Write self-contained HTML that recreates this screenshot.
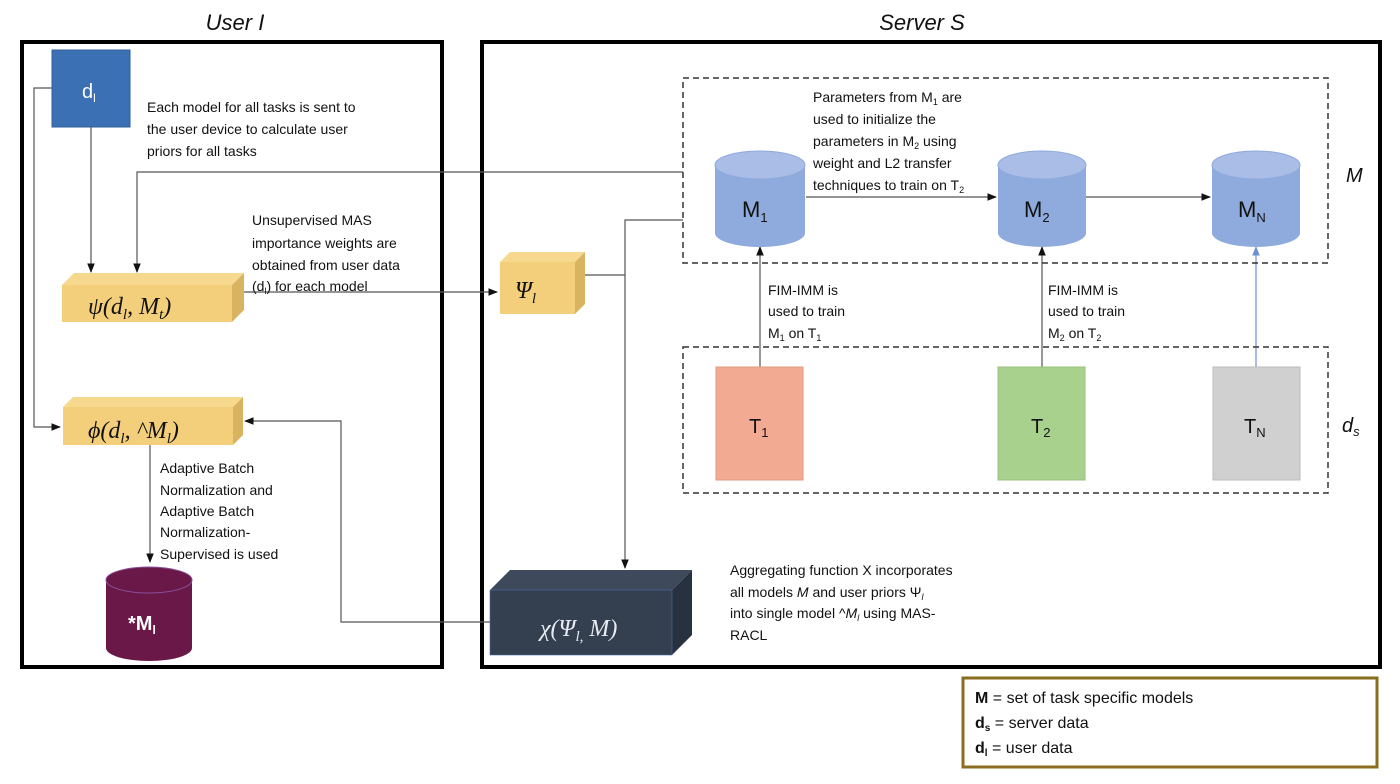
<!DOCTYPE html>
<html><head><meta charset="utf-8"><style>
body{margin:0;background:#fff}
svg{display:block}
text{font-family:"Liberation Sans",sans-serif;fill:#111}
.t{font-size:14px}
.m{font-family:"Liberation Serif",serif;font-style:italic}
</style></head><body>
<svg width="1400" height="784" viewBox="0 0 1400 784" xmlns="http://www.w3.org/2000/svg">
<defs>
<marker id="a" viewBox="0 0 10 10" refX="9" refY="5" markerWidth="8" markerHeight="8" orient="auto"><path d="M0,1 L10,5 L0,9z" fill="#111"/></marker>
<marker id="ab" viewBox="0 0 10 10" refX="9" refY="5" markerWidth="8" markerHeight="8" orient="auto"><path d="M0,1 L10,5 L0,9z" fill="#6f8fd0"/></marker>
</defs>
<text x="235" y="30" font-size="22" font-style="italic" text-anchor="middle">User I</text>
<text x="922" y="30" font-size="22" font-style="italic" text-anchor="middle">Server S</text>
<rect x="22" y="42" width="420" height="625" fill="none" stroke="#000" stroke-width="4"/>
<rect x="482" y="42" width="898" height="625" fill="none" stroke="#000" stroke-width="4"/>

<!-- d_l -->
<rect x="52" y="50" width="78" height="77" fill="#3c70b5" stroke="#2f5f9a"/>
<text x="82" y="98" font-size="20" fill="#fff" style="fill:#fff">d<tspan font-size="12" dy="4">l</tspan></text>
<text class="t" x="147" y="112">Each model for all tasks is sent to</text>
<text class="t" x="147" y="134">the user device to calculate user</text>
<text class="t" x="147" y="156">priors for all tasks</text>

<g fill="none" stroke="#555" stroke-width="1.2">
<path d="M52,88 H34 V427 H60" marker-end="url(#a)"/>
<path d="M91,127 V272" marker-end="url(#a)"/>
<path d="M683,172 H137 V272" marker-end="url(#a)"/>
<path d="M232,292 H497" marker-end="url(#a)"/>
<path d="M150,445 V562" marker-end="url(#a)"/>
<path d="M490,622 H341 V421 H245" marker-end="url(#a)"/>
<path d="M575,275 H625 M683,220 H625 V568" marker-end="url(#a)"/>
<path d="M806,197 H996" marker-end="url(#a)"/>
<path d="M1085,197 H1210" marker-end="url(#a)"/>
<path d="M760,367 V247" marker-end="url(#a)"/>
<path d="M1042,367 V247" marker-end="url(#a)"/>
<path d="M1256,367 V247" stroke="#6f8fd0" marker-end="url(#ab)"/>
</g>

<!-- psi box -->
<polygon points="62,285 74,273 244,273 232,285" fill="#f6d98e"/>
<polygon points="232,285 244,273 244,310 232,322" fill="#d9b460"/>
<rect x="62" y="285" width="170" height="37" fill="#f3cf7b"/>
<text x="88" y="314" font-size="24" class="m">ψ(d<tspan font-size="15" dy="5">l</tspan><tspan dy="-5">, M</tspan><tspan font-size="15" dy="5">t</tspan><tspan dy="-5">)</tspan></text>
<text class="t" x="252" y="225">Unsupervised MAS</text>
<text class="t" x="252" y="248">importance weights are</text>
<text class="t" x="252" y="270">obtained from user data</text>
<text class="t" x="252" y="291">(d<tspan font-size="9" dy="3">l</tspan><tspan dy="-3">) for each model</tspan></text>

<!-- phi box -->
<polygon points="63,407 73,397 243,397 233,407" fill="#f6d98e"/>
<polygon points="233,407 243,397 243,435 233,445" fill="#d9b460"/>
<rect x="63" y="407" width="170" height="38" fill="#f3cf7b"/>
<text x="88" y="438" font-size="24" class="m">ϕ(d<tspan font-size="15" dy="5">l</tspan><tspan dy="-5">, ^M</tspan><tspan font-size="15" dy="5">l</tspan><tspan dy="-5">)</tspan></text>
<text class="t" x="160" y="473">Adaptive Batch</text>
<text class="t" x="160" y="495">Normalization and</text>
<text class="t" x="160" y="516">Adaptive Batch</text>
<text class="t" x="160" y="537">Normalization-</text>
<text class="t" x="160" y="559">Supervised is used</text>

<!-- *M_l cylinder -->
<path d="M106,580 V648 A43,13 0 0 0 192,648 V580" fill="#6a1848"/>
<ellipse cx="149" cy="580" rx="43" ry="13" fill="#6a1848" stroke="#8a4f9a"/>
<text x="128" y="630" font-size="20" font-weight="bold" style="fill:#fff">*M<tspan font-size="12" dy="4">l</tspan></text>

<!-- Psi box -->
<polygon points="500,262 510,252 585,252 575,262" fill="#f6d98e"/>
<polygon points="575,262 585,252 585,304 575,314" fill="#d9b460"/>
<rect x="500" y="262" width="75" height="52" fill="#f3cf7b"/>
<text x="515" y="298" font-size="24" class="m">Ψ<tspan font-size="15" dy="5">l</tspan></text>

<!-- chi box -->
<polygon points="490,590 510,570 692,570 672,590" fill="#3e4a5c"/>
<polygon points="672,590 692,570 692,635 672,655" fill="#27313f"/>
<rect x="490" y="590" width="182" height="65" fill="#34404f" stroke="#4a6da8" stroke-width="0.6"/>
<text x="540" y="636" font-size="24" class="m" style="fill:#e8ecf2">χ(Ψ<tspan font-size="15" dy="5">l,</tspan><tspan dy="-5"> M)</tspan></text>
<text class="t" x="730" y="575">Aggregating function X incorporates</text>
<text class="t" x="730" y="597">all models <tspan font-style="italic">M</tspan> and user priors Ψ<tspan font-size="9" dy="3" font-style="italic">l</tspan></text>
<text class="t" x="730" y="618">into single model ^<tspan font-style="italic">M</tspan><tspan font-size="9" dy="3" font-style="italic">l</tspan><tspan dy="-3">  using MAS-</tspan></text>
<text class="t" x="730" y="640">RACL</text>

<!-- dashed boxes -->
<rect x="683" y="78" width="645" height="185" fill="none" stroke="#333" stroke-width="1.5" stroke-dasharray="6,4"/>
<rect x="683" y="347" width="645" height="146" fill="none" stroke="#333" stroke-width="1.5" stroke-dasharray="6,4"/>
<text x="1346" y="182" font-size="20" font-style="italic">M</text>
<text x="1342" y="432" font-size="20" font-style="italic">d<tspan font-size="13" dy="4">s</tspan></text>

<text class="t" x="813" y="102">Parameters from M<tspan font-size="9" dy="3">1</tspan><tspan dy="-3"> are</tspan></text>
<text class="t" x="813" y="124">used to initialize the</text>
<text class="t" x="813" y="146">parameters in M<tspan font-size="9" dy="3">2</tspan><tspan dy="-3"> using</tspan></text>
<text class="t" x="813" y="168">weight and L2 transfer</text>
<text class="t" x="813" y="190">techniques to train on T<tspan font-size="9" dy="3">2</tspan></text>

<!-- model cylinders -->
<g>
<path d="M715,165 V233 A45,14 0 0 0 805,233 V165" fill="#8faadc"/>
<ellipse cx="760" cy="165" rx="45" ry="14" fill="#a9bde6" stroke="#8faadc"/>
<text x="742" y="217" font-size="22">M<tspan font-size="13" dy="5">1</tspan></text>
<path d="M998,165 V233 A44,14 0 0 0 1086,233 V165" fill="#8faadc"/>
<ellipse cx="1042" cy="165" rx="44" ry="14" fill="#a9bde6" stroke="#8faadc"/>
<text x="1024" y="217" font-size="22">M<tspan font-size="13" dy="5">2</tspan></text>
<path d="M1212,165 V233 A44,14 0 0 0 1300,233 V165" fill="#8faadc"/>
<ellipse cx="1256" cy="165" rx="44" ry="14" fill="#a9bde6" stroke="#8faadc"/>
<text x="1238" y="217" font-size="22">M<tspan font-size="13" dy="5">N</tspan></text>
</g>

<text class="t" x="768" y="295">FIM-IMM is</text>
<text class="t" x="768" y="316">used to train</text>
<text class="t" x="768" y="338">M<tspan font-size="9" dy="3">1</tspan><tspan dy="-3"> on T</tspan><tspan font-size="9" dy="3">1</tspan></text>
<text class="t" x="1048" y="295">FIM-IMM is</text>
<text class="t" x="1048" y="316">used to train</text>
<text class="t" x="1048" y="338">M<tspan font-size="9" dy="3">2</tspan><tspan dy="-3"> on T</tspan><tspan font-size="9" dy="3">2</tspan></text>

<rect x="716" y="367" width="87" height="113" fill="#f2ab92" stroke="#e29a80"/>
<text x="749" y="433" font-size="20">T<tspan font-size="13" dy="4">1</tspan></text>
<rect x="998" y="367" width="87" height="113" fill="#a9d18e" stroke="#98c07d"/>
<text x="1031" y="433" font-size="20">T<tspan font-size="13" dy="4">2</tspan></text>
<rect x="1213" y="367" width="87" height="113" fill="#d0d0d0" stroke="#bbb"/>
<text x="1244" y="433" font-size="20">T<tspan font-size="13" dy="4">N</tspan></text>

<!-- legend -->
<rect x="963" y="678" width="414" height="89" fill="#fff" stroke="#8b6d1f" stroke-width="3"/>
<text x="975" y="703" font-size="16"><tspan font-weight="bold">M</tspan> = set of task specific models</text>
<text x="975" y="728" font-size="16"><tspan font-weight="bold">d<tspan font-size="10" dy="3">s</tspan></tspan><tspan dy="-3"> = server data</tspan></text>
<text x="975" y="753" font-size="16"><tspan font-weight="bold">d<tspan font-size="10" dy="3">l</tspan></tspan><tspan dy="-3"> = user data</tspan></text>
</svg>
</body></html>
